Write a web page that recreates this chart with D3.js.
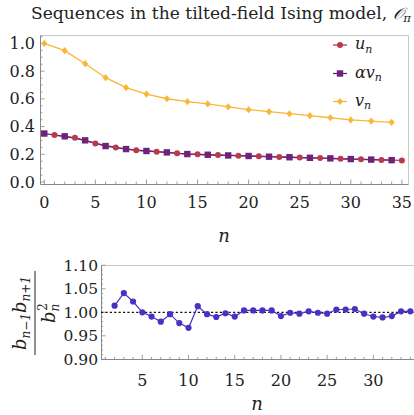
<!DOCTYPE html>
<html><head><meta charset="utf-8">
<script src="https://cdn.jsdelivr.net/npm/d3@7"></script>
<style>
html,body{margin:0;padding:0;background:#fff;}
svg{display:block;}
svg text{font-family:'DejaVu Serif';}
</style></head>
<body>
<script>
// ---------- data ----------
const evenN = [0,2,4,6,8,10,12,14,16,18,20,22,24,26,28,30,32,34];
const oddN  = [1,3,5,7,9,11,13,15,17,19,21,23,25,27,29,31,33,35];
const uVals = [0.339,0.320,0.279,0.250,0.229,0.219,0.207,0.200,0.195,0.190,0.186,0.181,0.177,0.173,0.168,0.164,0.160,0.156];
const alphaVVals = [0.350,0.330,0.301,0.260,0.238,0.224,0.214,0.202,0.197,0.192,0.188,0.183,0.179,0.175,0.171,0.166,0.162,0.158];
const vVals = [1.000,0.948,0.854,0.753,0.681,0.635,0.601,0.580,0.564,0.543,0.522,0.508,0.493,0.479,0.464,0.448,0.440,0.431];
const ratioN = [2,3,4,5,6,7,8,9,10,11,12,13,14,15,16,17,18,19,20,21,22,23,24,25,26,27,28,29,30,31,32,33,34];
const ratioVals = [1.014,1.041,1.023,1.000,0.991,0.980,0.996,0.977,0.967,1.013,0.996,0.990,0.998,0.991,1.004,1.004,1.004,1.004,0.992,0.999,0.997,1.002,0.999,0.997,1.006,1.006,1.007,0.997,0.991,0.989,0.992,1.002,1.002];
const topXTicks = [0,5,10,15,20,25,30,35];
const topYTicks = [0.0,0.2,0.4,0.6,0.8,1.0];
const botXTicks = [5,10,15,20,25,30];
const botYTicks = [0.90,0.95,1.00,1.05,1.10];

const colU = "#b83a4e", colA = "#6c2379", colV = "#f9b637", colR = "#4633c4";

const W = 414, H = 415;
const svg = d3.select("body").append("svg").attr("width", W).attr("height", H).attr("fill", "#222");

// ---------- top chart ----------
const tx = d3.scaleLinear().domain([-0.42, 35.6]).range([40, 408]);
const ty = d3.scaleLinear().domain([-0.014, 1.061]).range([184, 35]);

function frame(x0, x1, y0, y1) {
  svg.append("line").attr("x1", x0).attr("x2", x1).attr("y1", y1).attr("y2", y1).attr("stroke", "#c8c8c8");
  svg.append("line").attr("x1", x1).attr("x2", x1).attr("y1", y0).attr("y2", y1).attr("stroke", "#c8c8c8");
  svg.append("line").attr("x1", x0).attr("x2", x1).attr("y1", y0).attr("y2", y0).attr("stroke", "#888");
  svg.append("line").attr("x1", x0).attr("x2", x0).attr("y1", y0).attr("y2", y1).attr("stroke", "#888");
}
frame(40.5, 408.5, 184.5, 35.5);

const tg = svg.append("g");
d3.range(0, 36, 1).forEach(n => {
  const major = n % 5 === 0;
  tg.append("line").attr("x1", tx(n)).attr("x2", tx(n)).attr("y1", 184).attr("y2", 184 - (major ? 4.5 : 2.5)).attr("stroke", "#888").attr("stroke-width", 0.8);
});
d3.range(0, 1.06, 0.05).forEach(v => {
  const major = Math.abs(v*5 - Math.round(v*5)) < 1e-6;
  tg.append("line").attr("y1", ty(v)).attr("y2", ty(v)).attr("x1", 40).attr("x2", 40 + (major ? 4.5 : 2.5)).attr("stroke", "#888").attr("stroke-width", 0.8);
});
topXTicks.forEach(n => {
  svg.append("text").attr("x", tx(n)).attr("y", 207.5).attr("text-anchor", "middle").attr("font-size", 16).text(n);
});
topYTicks.forEach(v => {
  svg.append("text").attr("x", 35).attr("y", ty(v) + 5.5).attr("text-anchor", "end").attr("font-size", 16).text(v.toFixed(1));
});
svg.append("text").attr("x", 224).attr("y", 242).attr("text-anchor", "middle").attr("font-size", 18).attr("font-style", "italic").text("n");

// title
const title = svg.append("text").attr("x", 221).attr("y", 19).attr("text-anchor", "middle").attr("font-size", 16);
title.append("tspan").text("Sequences in the tilted-field Ising model, ");
title.append("tspan").attr("font-style", "italic").attr("font-size", 16).text("𝒪");
title.append("tspan").attr("font-size", 11).attr("dy", 3).attr("font-style", "italic").text("π");

// series
const lineTop = d3.line().x(d => tx(d[0])).y(d => ty(d[1]));
const uData = oddN.map((n, i) => [n, uVals[i]]);
const aData = evenN.map((n, i) => [n, alphaVVals[i]]);
const vData = evenN.map((n, i) => [n, vVals[i]]);

svg.append("path").datum(vData).attr("d", lineTop).attr("fill", "none").attr("stroke", colV).attr("stroke-width", 1.3);
svg.append("path").datum(uData).attr("d", lineTop).attr("fill", "none").attr("stroke", colU).attr("stroke-width", 1.3);
svg.append("path").datum(aData).attr("d", lineTop).attr("fill", "none").attr("stroke", colA).attr("stroke-width", 1.3);

const diamond = (cx, cy, r) => `M${cx},${cy-r}L${cx+r*0.85},${cy}L${cx},${cy+r}L${cx-r*0.85},${cy}Z`;
function drawCircle(g, x, y) { g.append("circle").attr("cx", x).attr("cy", y).attr("r", 3).attr("fill", colU); }
function drawSquare(g, x, y) { g.append("rect").attr("x", x - 3.2).attr("y", y - 3.2).attr("width", 6.4).attr("height", 6.4).attr("fill", colA); }
function drawDiamond(g, x, y) { g.append("path").attr("d", diamond(x, y, 3.6)).attr("fill", colV); }

const mg = svg.append("g");
vData.forEach(d => drawDiamond(mg, tx(d[0]), ty(d[1])));
uData.forEach(d => drawCircle(mg, tx(d[0]), ty(d[1])));
aData.forEach(d => drawSquare(mg, tx(d[0]), ty(d[1])));

// legend
const legend = [
  {y: 45, col: colU, draw: drawCircle, parts: [["u", {}], ["n", {sub: true}]]},
  {y: 73.5, col: colA, draw: drawSquare, parts: [["α", {}], ["v", {}], ["n", {sub: true}]]},
  {y: 101.5, col: colV, draw: drawDiamond, parts: [["v", {}], ["n", {sub: true}]]}
];
legend.forEach(l => {
  svg.append("line").attr("x1", 333).attr("x2", 347).attr("y1", l.y).attr("y2", l.y).attr("stroke", l.col).attr("stroke-width", 1.3);
  l.draw(svg, 340, l.y);
  const t = svg.append("text").attr("x", 355).attr("y", l.y + 4).attr("font-size", 16).attr("font-style", "italic");
  l.parts.forEach(p => {
    const ts = t.append("tspan").text(p[0]);
    if (p[1].sub) { ts.attr("font-size", 11).attr("dy", 3.5); }
  });
});

// ---------- bottom chart ----------
const bx = d3.scaleLinear().domain([0.53, 34.4]).range([101, 414]);
const by = d3.scaleLinear().domain([0.90, 1.10]).range([359.3, 265.3]);
frame(101.5, 420, 359.5, 265.5);
d3.range(1, 35, 1).forEach(n => {
  if (bx(n) <= 101.5) return;
  const major = n % 5 === 0;
  svg.append("line").attr("x1", bx(n)).attr("x2", bx(n)).attr("y1", 359.3).attr("y2", 359.3 - (major ? 4.5 : 2.5)).attr("stroke", "#888").attr("stroke-width", 0.8);
});
d3.range(0.90, 1.1005, 0.01).forEach(v => {
  const major = Math.abs(v*20 - Math.round(v*20)) < 1e-6;
  svg.append("line").attr("y1", by(v)).attr("y2", by(v)).attr("x1", 101).attr("x2", 101 + (major ? 4.5 : 2)).attr("stroke", "#888").attr("stroke-width", 0.8);
});
botXTicks.forEach(n => {
  svg.append("text").attr("x", bx(n)).attr("y", 385.5).attr("text-anchor", "middle").attr("font-size", 16).text(n);
});
botYTicks.forEach(v => {
  svg.append("text").attr("x", 98).attr("y", by(v) + 5.5).attr("text-anchor", "end").attr("font-size", 15.5).text(v.toFixed(2));
});
svg.append("text").attr("x", 257).attr("y", 410).attr("text-anchor", "middle").attr("font-size", 18).attr("font-style", "italic").text("n");

svg.append("line").attr("x1", 101).attr("x2", 414).attr("y1", by(1)).attr("y2", by(1)).attr("stroke", "#111").attr("stroke-width", 1.2).attr("stroke-dasharray", "2.2,2.2");

const rData = ratioN.map((n, i) => [n, ratioVals[i]]);
const lineBot = d3.line().x(d => bx(d[0])).y(d => by(d[1]));
svg.append("path").datum(rData).attr("d", lineBot).attr("fill", "none").attr("stroke", colR).attr("stroke-width", 1.2);
svg.append("g").selectAll("circle").data(rData).join("circle")
  .attr("cx", d => bx(d[0])).attr("cy", d => by(d[1])).attr("r", 3.1).attr("fill", colR);

// y label fraction
const fl = svg.append("g").attr("transform", "translate(35,313) rotate(-90)");
fl.append("line").attr("x1", -42).attr("x2", 42).attr("y1", 0).attr("y2", 0).attr("stroke", "#222").attr("stroke-width", 1);
const num = fl.append("text").attr("x", 0).attr("y", -9).attr("text-anchor", "middle").attr("font-size", 18).attr("font-style", "italic");
num.append("tspan").text("b");
num.append("tspan").attr("font-size", 12).attr("dy", 4).text("n−1");
num.append("tspan").attr("dy", -4).text("b");
num.append("tspan").attr("font-size", 12).attr("dy", 4).text("n+1");
const den = fl.append("text").attr("x", 0).attr("y", 20).attr("text-anchor", "middle").attr("font-size", 18).attr("font-style", "italic");
den.append("tspan").text("b");
den.append("tspan").attr("font-size", 12).attr("dy", 4).text("n");
den.append("tspan").attr("font-size", 12).attr("dx", -7).attr("dy", -12).attr("font-style", "normal").text("2");

title.attr("textLength", 380).attr("lengthAdjust", "spacingAndGlyphs");
</script>
</body></html>
